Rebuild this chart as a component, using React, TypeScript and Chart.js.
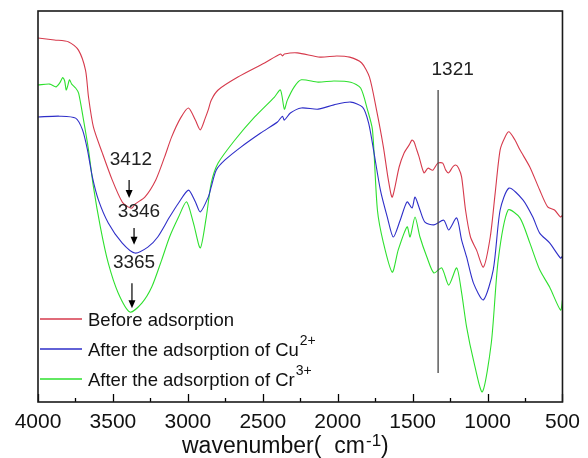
import React, { useEffect, useRef } from 'react';
import { Chart, registerables } from 'chart.js';

Chart.register(...registerables);

// ---- data (wavenumber cm-1, transmittance a.u. %) ----
const redWn = [4000,3890,3795,3730,3683,3663,3630,3571,3505,3439,3399,3373,3353,3287,3214,3155,3108,3049,2996,2950,2917,2884,2864,2844,2798,2666,2488,2382,2369,2356,2270,2118,2006,1920,1840,1788,1741,1695,1662,1636,1590,1557,1524,1504,1490,1477,1457,1424,1398,1365,1332,1299,1279,1259,1233,1213,1193,1173,1147,1114,1074,1028,982,949,916,883,857,817,784,718,652,599,553,513,500];
const redT = [93.1,92.6,92.1,90.0,84.9,78.0,70.3,63.7,56.8,51.2,49.9,49.6,50.6,52.4,56.8,62.7,67.8,72.6,75.2,72.1,69.6,72.6,74.7,77.2,79.8,83.1,86.7,89.0,88.5,89.0,89.3,88.2,88.5,88.2,86.7,83.1,74.7,65.2,56.8,52.4,60.1,63.7,65.7,67.0,66.5,65.0,62.7,58.6,59.8,59.3,61.1,61.1,59.3,58.6,60.1,60.6,59.8,57.5,49.1,42.2,38.9,34.5,42.2,53.5,64.5,67.8,69.1,67.0,64.5,60.1,54.2,49.9,49.1,47.3,47.8];

const blueWn = [4000,3855,3749,3703,3670,3637,3597,3531,3439,3353,3267,3201,3122,3062,2996,2950,2917,2864,2844,2811,2752,2646,2514,2402,2369,2356,2316,2243,2131,2025,1913,1834,1794,1761,1715,1669,1629,1583,1537,1504,1484,1451,1418,1358,1292,1259,1206,1173,1140,1094,1028,962,916,857,764,698,652,586,513,500];
const blueT = [72.9,73.1,72.6,69.6,64.5,57.5,51.7,45.8,40.7,38.1,39.6,42.2,47.3,50.9,54.2,51.2,48.6,52.4,55.0,59.3,61.9,65.2,68.8,71.6,73.1,72.1,73.9,75.2,74.9,76.0,76.7,75.4,71.4,64.5,54.2,47.3,42.2,46.5,51.2,49.6,52.4,49.1,46.0,45.3,46.5,44.0,47.1,41.4,37.1,30.4,26.1,33.8,49.1,54.7,51.7,47.3,43.2,40.7,36.8,37.3];

const greenWn = [4000,3921,3880,3855,3835,3822,3812,3802,3790,3775,3749,3729,3696,3663,3630,3584,3531,3465,3386,3307,3241,3175,3122,3062,3009,2963,2917,2877,2844,2798,2686,2554,2422,2382,2356,2336,2290,2243,2131,2025,1913,1847,1801,1768,1735,1695,1636,1596,1537,1517,1484,1451,1405,1358,1306,1259,1206,1173,1140,1094,1035,975,929,863,784,718,652,586,513,500];
const greenT = [81.1,81.3,80.6,81.6,83.0,82.1,79.8,80.8,82.4,81.3,80.3,79.0,72.1,64.5,55.0,44.8,35.5,27.9,23.0,25.3,29.4,36.3,42.2,47.3,51.2,45.8,39.4,47.3,56.0,61.1,67.0,72.9,78.0,79.8,74.9,77.2,80.6,82.4,81.8,82.1,81.8,80.3,74.7,69.6,49.1,40.7,33.2,38.9,44.8,42.2,47.3,42.2,37.1,33.0,34.3,29.9,34.3,27.9,19.2,10.7,2.6,15.1,36.3,49.1,47.1,40.7,33.8,29.4,23.5,26.1];

const seriesNames = ['Before adsorption', 'After the adsorption of Cu', 'After the adsorption of Cr'];
const seriesSups = ['', '2+', '3+'];
const seriesColors = ['#d63a4c', '#2e2ec8', '#2ee02e'];

const xTickMin = 500;
const xTickMax = 4000;
const xMajorStep = 500;
const xMinorStep = 250;

// peak annotations (label, label position, arrow position)
const peakLabels = ['3412', '3346', '3365'];
const peakLabelWn = [3380, 3326, 3359];
const peakLabelT = [61.9, 48.6, 35.5];
const peakArrowWn = [3392, 3359, 3373];
const peakArrowTopT = [56.8, 44.5, 30.4];
const peakArrowTipT = [52.2, 40.2, 24.0];

const markerWn = 1330;
const markerTopT = 79.8;
const markerBottomT = 7.4;
const markerLabel = '1321';
const markerLabelWn = 1233;
const markerLabelT = 84.9;

const FONT = '"Liberation Sans", Arial, Helvetica, sans-serif';

const overlay = {
  id: 'overlay',
  afterDraw(chart: any) {
    const { ctx, chartArea: a, scales } = chart;
    const xs = scales.x;
    const ys = scales.y;
    ctx.save();

    // inward ticks on bottom axis
    ctx.strokeStyle = '#000';
    ctx.lineWidth = 1.3;
    for (let v = xTickMin; v <= xTickMax; v += xMinorStep) {
      const px = Math.round(xs.getPixelForValue(v)) + 0.5;
      const len = v % xMajorStep === 0 ? 8 : 4;
      ctx.beginPath();
      ctx.moveTo(px, a.bottom);
      ctx.lineTo(px, a.bottom - len);
      ctx.stroke();
    }

    // frame
    ctx.lineWidth = 1.6;
    ctx.strokeStyle = '#1a1a1a';
    ctx.strokeRect(a.left, a.top, a.right - a.left, a.bottom - a.top);

    // marker line
    const mx = xs.getPixelForValue(markerWn);
    ctx.strokeStyle = '#444';
    ctx.lineWidth = 1.3;
    ctx.beginPath();
    ctx.moveTo(mx, ys.getPixelForValue(markerTopT));
    ctx.lineTo(mx, ys.getPixelForValue(markerBottomT));
    ctx.stroke();

    ctx.fillStyle = '#222';
    ctx.textAlign = 'center';
    ctx.textBaseline = 'middle';
    ctx.font = `19px ${FONT}`;
    ctx.fillText(markerLabel, xs.getPixelForValue(markerLabelWn), ys.getPixelForValue(markerLabelT));

    // peak labels & arrows
    for (let i = 0; i < peakLabels.length; i++) {
      ctx.fillStyle = '#222';
      ctx.fillText(peakLabels[i], xs.getPixelForValue(peakLabelWn[i]), ys.getPixelForValue(peakLabelT[i]));
      const ax = xs.getPixelForValue(peakArrowWn[i]);
      const y1 = ys.getPixelForValue(peakArrowTopT[i]);
      const y2 = ys.getPixelForValue(peakArrowTipT[i]);
      ctx.strokeStyle = '#000';
      ctx.lineWidth = 1.2;
      ctx.beginPath();
      ctx.moveTo(ax, y1);
      ctx.lineTo(ax, y2 - 6);
      ctx.stroke();
      ctx.fillStyle = '#000';
      ctx.beginPath();
      ctx.moveTo(ax - 3.5, y2 - 8);
      ctx.lineTo(ax + 3.5, y2 - 8);
      ctx.lineTo(ax, y2);
      ctx.closePath();
      ctx.fill();
    }

    // legend
    const rowY = [a.top + 308, a.top + 338, a.top + 368];
    for (let i = 0; i < seriesNames.length; i++) {
      const y = rowY[i];
      ctx.strokeStyle = seriesColors[i];
      ctx.lineWidth = 1.3;
      ctx.beginPath();
      ctx.moveTo(a.left + 2, y);
      ctx.lineTo(a.left + 44, y);
      ctx.stroke();
      ctx.fillStyle = '#111';
      ctx.textAlign = 'left';
      ctx.textBaseline = 'alphabetic';
      ctx.font = `18.5px ${FONT}`;
      const tx = a.left + 50;
      ctx.fillText(seriesNames[i], tx, y + 7);
      if (seriesSups[i]) {
        const w = ctx.measureText(seriesNames[i]).width;
        ctx.font = `14px ${FONT}`;
        ctx.fillText(seriesSups[i], tx + w + 1, y - 4);
      }
    }

    // x axis title
    ctx.fillStyle = '#111';
    ctx.textAlign = 'left';
    ctx.textBaseline = 'alphabetic';
    ctx.font = `23px ${FONT}`;
    const base = 453;
    let tx = 182;
    ctx.fillText('wavenumber(', tx, base);
    tx += ctx.measureText('wavenumber(').width + 13;
    ctx.fillText('cm', tx, base);
    tx += ctx.measureText('cm').width + 1;
    ctx.font = `17px ${FONT}`;
    ctx.fillText('-1', tx, base - 7);
    tx += ctx.measureText('-1').width;
    ctx.font = `23px ${FONT}`;
    ctx.fillText(')', tx, base);

    ctx.restore();
  },
};

export default function App() {
  const ref = useRef<HTMLCanvasElement | null>(null);

  useEffect(() => {
    if (!ref.current) return;
    const mk = (wn: number[], t: number[]) => wn.map((x, i) => ({ x, y: t[i] }));
    const chart = new Chart(ref.current, {
      type: 'line',
      data: {
        datasets: [
          { label: seriesNames[0], data: mk(redWn, redT), borderColor: seriesColors[0], borderWidth: 1.1, pointRadius: 0, tension: 0.25, fill: false },
          { label: seriesNames[1], data: mk(blueWn, blueT), borderColor: seriesColors[1], borderWidth: 1.1, pointRadius: 0, tension: 0.25, fill: false },
          { label: seriesNames[2], data: mk(greenWn, greenT), borderColor: seriesColors[2], borderWidth: 1.1, pointRadius: 0, tension: 0.25, fill: false },
        ],
      },
      options: {
        responsive: false,
        animation: false,
        devicePixelRatio: 1,
        layout: { padding: { left: 38, top: 11, right: 20, bottom: 0 } },
        plugins: { legend: { display: false }, tooltip: { enabled: false } },
        scales: {
          x: {
            type: 'linear',
            reverse: true,
            min: xTickMin,
            max: xTickMax,
            grid: { display: false, drawTicks: false },
            border: { display: false },
            ticks: {
              stepSize: xMajorStep,
              autoSkip: false,
              maxRotation: 0,
              color: '#111',
              padding: 8,
              font: { family: FONT, size: 21 },
              callback: (v: any) => String(v),
            },
            afterFit: (s: any) => { s.height = 56; },
          },
          y: { display: false, min: 0, max: 100 },
        },
      },
      plugins: [overlay],
    } as any);
    return () => chart.destroy();
  }, []);

  return (
    <div style={{ position: 'fixed', left: 0, top: 0, width: 588, height: 458, background: '#fff' }}>
      <canvas ref={ref} width={588} height={458} style={{ display: 'block', width: 588, height: 458 }} />
    </div>
  );
}
